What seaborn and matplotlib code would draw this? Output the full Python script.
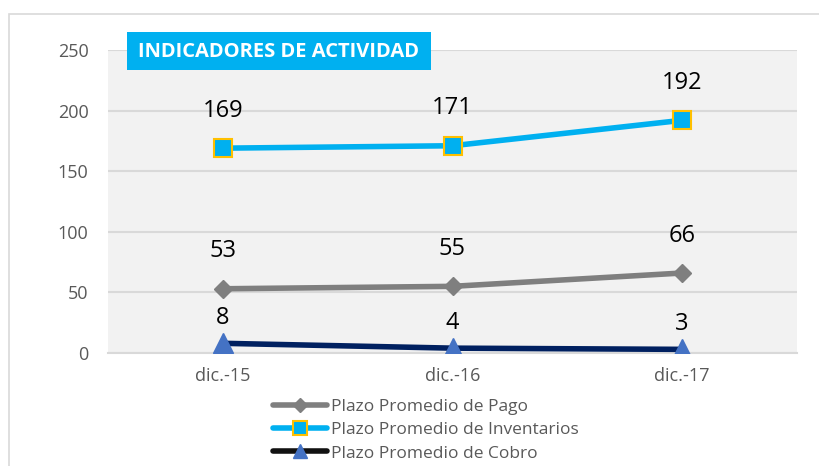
import matplotlib
matplotlib.use("Agg")
import matplotlib.pyplot as plt
import seaborn as sns
import pandas as pd
from matplotlib.patches import Rectangle
from matplotlib.lines import Line2D

categories = ["dic.-15", "dic.-16", "dic.-17"]
pago = [53, 55, 66]
inventarios = [169, 171, 192]
cobro = [8, 4, 3]
series_names = ["Plazo Promedio de Pago", "Plazo Promedio de Inventarios", "Plazo Promedio de Cobro"]
yticks = [0, 50, 100, 150, 200, 250]
title = "INDICADORES DE ACTIVIDAD"

sns.set_theme(style="white")
plt.rcParams["font.family"] = ["Open Sans", "DejaVu Sans"]

fig = plt.figure(figsize=(8.19, 4.66), dpi=100)
ax = fig.add_axes([108/819, 1-353/466, (797-108)/819, (353-50)/466])
ax.set_facecolor("#F2F2F2")

df = pd.DataFrame({"cat": categories * 3,
                   "x": list(range(len(categories))) * 3,
                   "value": pago + inventarios + cobro,
                   "serie": [series_names[0]] * 3 + [series_names[1]] * 3 + [series_names[2]] * 3})

styles = {
    series_names[0]: dict(color="#7F7F7F", marker="D", markersize=9, mfc="#7F7F7F", mec="#7F7F7F", mew=1),
    series_names[1]: dict(color="#00B0F0", marker="s", markersize=13, mfc="#00B0F0", mec="#FFC000", mew=1.5),
    series_names[2]: dict(color="#002060", marker="^", markersize=14, mfc="#4472C4", mec="#4472C4", mew=1),
}
offsets = {series_names[0]: 27, series_names[1]: 27, series_names[2]: 18}

for name in series_names:
    sub = df[df["serie"] == name]
    st = styles[name]
    sns.lineplot(data=sub, x="x", y="value", ax=ax, color=st["color"], linewidth=4,
                 marker=st["marker"], markersize=st["markersize"],
                 markerfacecolor=st["mfc"], markeredgecolor=st["mec"], markeredgewidth=st["mew"],
                 legend=False, zorder=3)
    for xi, v in zip(sub["x"], sub["value"]):
        ax.annotate(str(v), (xi, v), xytext=(0, offsets[name]), textcoords="offset points",
                    ha="center", va="center", fontsize=17, color="black")

ax.set_xlim(-0.5, len(categories) - 0.5)
ax.set_ylim(0, 250)
ax.set_xticks(range(len(categories)))
ax.set_xticklabels(categories)
ax.set_yticks(yticks)
ax.tick_params(axis="both", labelsize=13, colors="#595959", length=0)
ax.tick_params(axis="y", pad=14)
ax.tick_params(axis="x", pad=10)
ax.set_xlabel("")
ax.set_ylabel("")
ax.yaxis.grid(True, color="#D9D9D9", linewidth=1.5)
ax.set_axisbelow(True)
for s in ["top", "right", "left"]:
    ax.spines[s].set_visible(False)
ax.spines["bottom"].set_color("#D9D9D9")
ax.spines["bottom"].set_linewidth(1.5)

# title box
fig.patches.append(Rectangle((127/819, 1-70/466), (431-127)/819, 38/466, transform=fig.transFigure,
                             facecolor="#00B0F0", edgecolor="none", zorder=5))
fig.text(279/819, 1-52/466, title, ha="center", va="center", fontsize=14.5, fontweight="bold",
         color="white", zorder=6)

# outer border
fig.patches.append(Rectangle((9/819, -0.1), 1.0, 1-14/466+0.1, transform=fig.transFigure,
                             fill=False, edgecolor="#D9D9D9", linewidth=1.2))

handles = []
leg_colors = ["#7F7F7F", "#00B0F0", "#111111"]
for name, lc in zip(series_names, leg_colors):
    st = styles[name]
    handles.append(Line2D([0], [0], color=lc, linewidth=4, marker=st["marker"],
                          markersize=st["markersize"] * 0.75, markerfacecolor=st["mfc"],
                          markeredgecolor=st["mec"], markeredgewidth=st["mew"]))
fig.legend(handles, series_names, loc="center", bbox_to_anchor=(426/819, 1-430/466),
           frameon=False, fontsize=12.5, handlelength=3.1, labelspacing=0.42,
           handletextpad=0.25, labelcolor="#595959", borderpad=0)

fig.savefig("out.png", dpi=100)
